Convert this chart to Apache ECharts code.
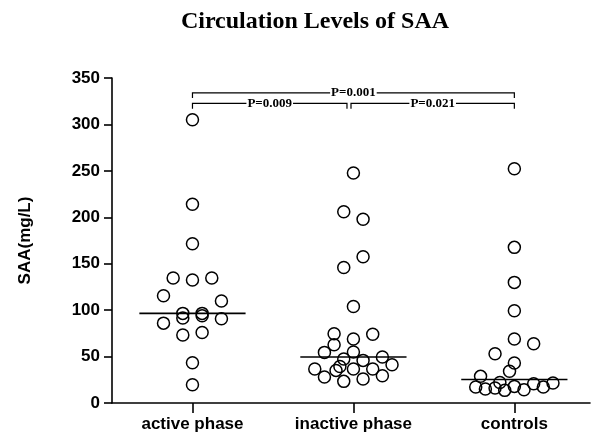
<!DOCTYPE html>
<html>
<head>
    <meta charset="utf-8">
    <title>Circulation Levels of SAA</title>
    <script src="https://cdn.jsdelivr.net/npm/echarts@6/dist/echarts.min.js"></script>
</head>
<body style="margin:0">
<div id="main" style="width: 591px;height:438px;"></div>
<script type="text/javascript">
    // groups on the x axis
    var groups = ['active phase', 'inactive phase', 'controls'];

    // SAA values (mg/L)
    var activeVals = [305, 214, 171.5, 134.6, 132.5, 134.6, 115.5, 109.8, 96.5, 91.5, 96.5, 94, 86, 90.8, 73.2, 76, 43.4, 19.7];
    var inactiveVals = [247.7, 206, 197.8, 157.5, 146, 104, 74.6, 74, 68.9, 62.8, 54.5, 54.9, 47.4, 45.9, 49.5, 41.2, 36.6, 35.1, 39.4, 36.6, 36.6, 28, 23.3, 25.8, 29.4];
    var controlVals = [252.3, 167.6, 129.9, 99.4, 68.9, 63.9, 53.1, 43.1, 34.1, 28.7, 17.2, 15.1, 22, 16.1, 13.6, 17.9, 14.3, 20.8, 17.2, 21.5];

    // side-by-side slot of each dot (how the plot spreads equal values)
    var activeSlots = [0, 0, 0, -2, 0, 2, -3, 3, -1, -1, 1, 1, -3, 3, -1, 1, 0, 0];
    var inactiveSlots = [0, -1, 1, 1, -1, 0, -2, 2, 0, -2, -3, 0, -1, 1, 3, 4, -4, -1.8, -1.4, 0, 2, -3, -1, 1, 3];
    var controlSlots = [0, 0, 0, 0, 0, 2, -2, 0, -0.5, -3.5, -4, -3, -1.5, -2, -1, 0, 1, 2, 3, 4];

    // y axis ticks
    var yTicks = [0, 50, 100, 150, 200, 250, 300, 350];

    // significance brackets
    var bracketFrom = [0, 0, 0.985];
    var bracketTo = [2, 0.96, 2];
    var bracketY = [334, 322.6, 322.6];
    var bracketText = ['P=0.001', 'P=0.009', 'P=0.021'];

    var slotStep = 0.06;     // x units per slot
    var medianHalf = 0.33;   // half width of median line (x units)
    var bracketDrop = 5.6;   // length of bracket ends (y units)

    function median(arr) {
        var s = arr.slice().sort(function (a, b) { return a - b; });
        var m = Math.floor(s.length / 2);
        return s.length % 2 ? s[m] : (s[m - 1] + s[m]) / 2;
    }

    var allVals = [activeVals, inactiveVals, controlVals];
    var allSlots = [activeSlots, inactiveSlots, controlSlots];

    var dots = [];
    allVals.forEach(function (vals, g) {
        vals.forEach(function (v, i) {
            dots.push([g + allSlots[g][i] * slotStep, v]);
        });
    });

    var medians = allVals.map(function (vals, g) { return [g, median(vals)]; });

    var brackets = bracketText.map(function (t, i) {
        return [bracketFrom[i], bracketTo[i], bracketY[i], t];
    });

    var myChart = echarts.init(document.getElementById('main'));

    var option = {
        animation: false,
        backgroundColor: '#fff',
        title: {
            text: 'Circulation Levels of SAA',
            left: 310,
            textAlign: 'center',
            top: 5,
            textStyle: {
                fontFamily: 'Liberation Serif',
                fontWeight: 'bold',
                fontSize: 24,
                color: '#000'
            }
        },
        grid: {
            left: 112,
            right: 1,
            top: 78,
            bottom: 35
        },
        xAxis: {
            type: 'value',
            min: -0.5,
            max: 2.47,
            splitLine: {show: false},
            axisLine: {onZero: false, lineStyle: {color: '#000', width: 1.6}},
            axisTick: {
                customValues: [0, 1, 2],
                length: 10,
                lineStyle: {color: '#000', width: 1.6}
            },
            axisLabel: {
                customValues: [0, 1, 2],
                formatter: function (v) { return groups[Math.round(v)]; },
                margin: 13,
                fontFamily: 'Liberation Sans',
                fontWeight: 'bold',
                fontSize: 17,
                color: '#000'
            }
        },
        yAxis: {
            type: 'value',
            min: yTicks[0],
            max: yTicks[yTicks.length - 1],
            interval: 50,
            name: 'SAA(mg/L)',
            nameLocation: 'middle',
            nameGap: 78,
            nameTextStyle: {
                fontFamily: 'Liberation Sans',
                fontWeight: 'bold',
                fontSize: 17,
                color: '#000'
            },
            splitLine: {show: false},
            axisLine: {show: true, onZero: false, lineStyle: {color: '#000', width: 1.6}},
            axisTick: {show: true, length: 8, lineStyle: {color: '#000', width: 1.6}},
            axisLabel: {
                margin: 12,
                fontFamily: 'Liberation Sans',
                fontWeight: 'bold',
                fontSize: 17,
                color: '#000'
            }
        },
        series: [
            {
                type: 'scatter',
                data: dots,
                symbol: 'circle',
                symbolSize: 12,
                itemStyle: {
                    color: 'rgba(0,0,0,0)',
                    borderColor: '#000',
                    borderWidth: 1.5,
                    opacity: 1
                },
                z: 3
            },
            {
                // median lines
                type: 'custom',
                data: medians,
                renderItem: function (params, api) {
                    var p1 = api.coord([api.value(0) - medianHalf, api.value(1)]);
                    var p2 = api.coord([api.value(0) + medianHalf, api.value(1)]);
                    return {
                        type: 'line',
                        shape: {x1: p1[0], y1: p1[1], x2: p2[0], y2: p2[1]},
                        style: {stroke: '#000', lineWidth: 1.6}
                    };
                },
                z: 4
            },
            {
                // p-value brackets
                type: 'custom',
                data: brackets,
                renderItem: function (params, api) {
                    var x1 = api.value(0), x2 = api.value(1), y = api.value(2);
                    var a = api.coord([x1, y]);
                    var b = api.coord([x2, y]);
                    var a2 = api.coord([x1, y - bracketDrop]);
                    var b2 = api.coord([x2, y - bracketDrop]);
                    var txt = brackets[params.dataIndex][3];
                    return {
                        type: 'group',
                        children: [
                            {
                                type: 'polyline',
                                shape: {points: [a2, a, b, b2]},
                                style: {stroke: '#000', lineWidth: 1.2, fill: null}
                            },
                            {
                                type: 'text',
                                x: (a[0] + b[0]) / 2,
                                y: a[1],
                                style: {
                                    text: txt,
                                    align: 'center',
                                    verticalAlign: 'middle',
                                    fontFamily: 'Liberation Serif',
                                    fontWeight: 'bold',
                                    fontSize: 13,
                                    fill: '#000',
                                    backgroundColor: '#fff',
                                    padding: [0, 1]
                                }
                            }
                        ]
                    };
                },
                z: 5
            }
        ]
    };
    myChart.setOption(option);
</script>
</body>
</html>
